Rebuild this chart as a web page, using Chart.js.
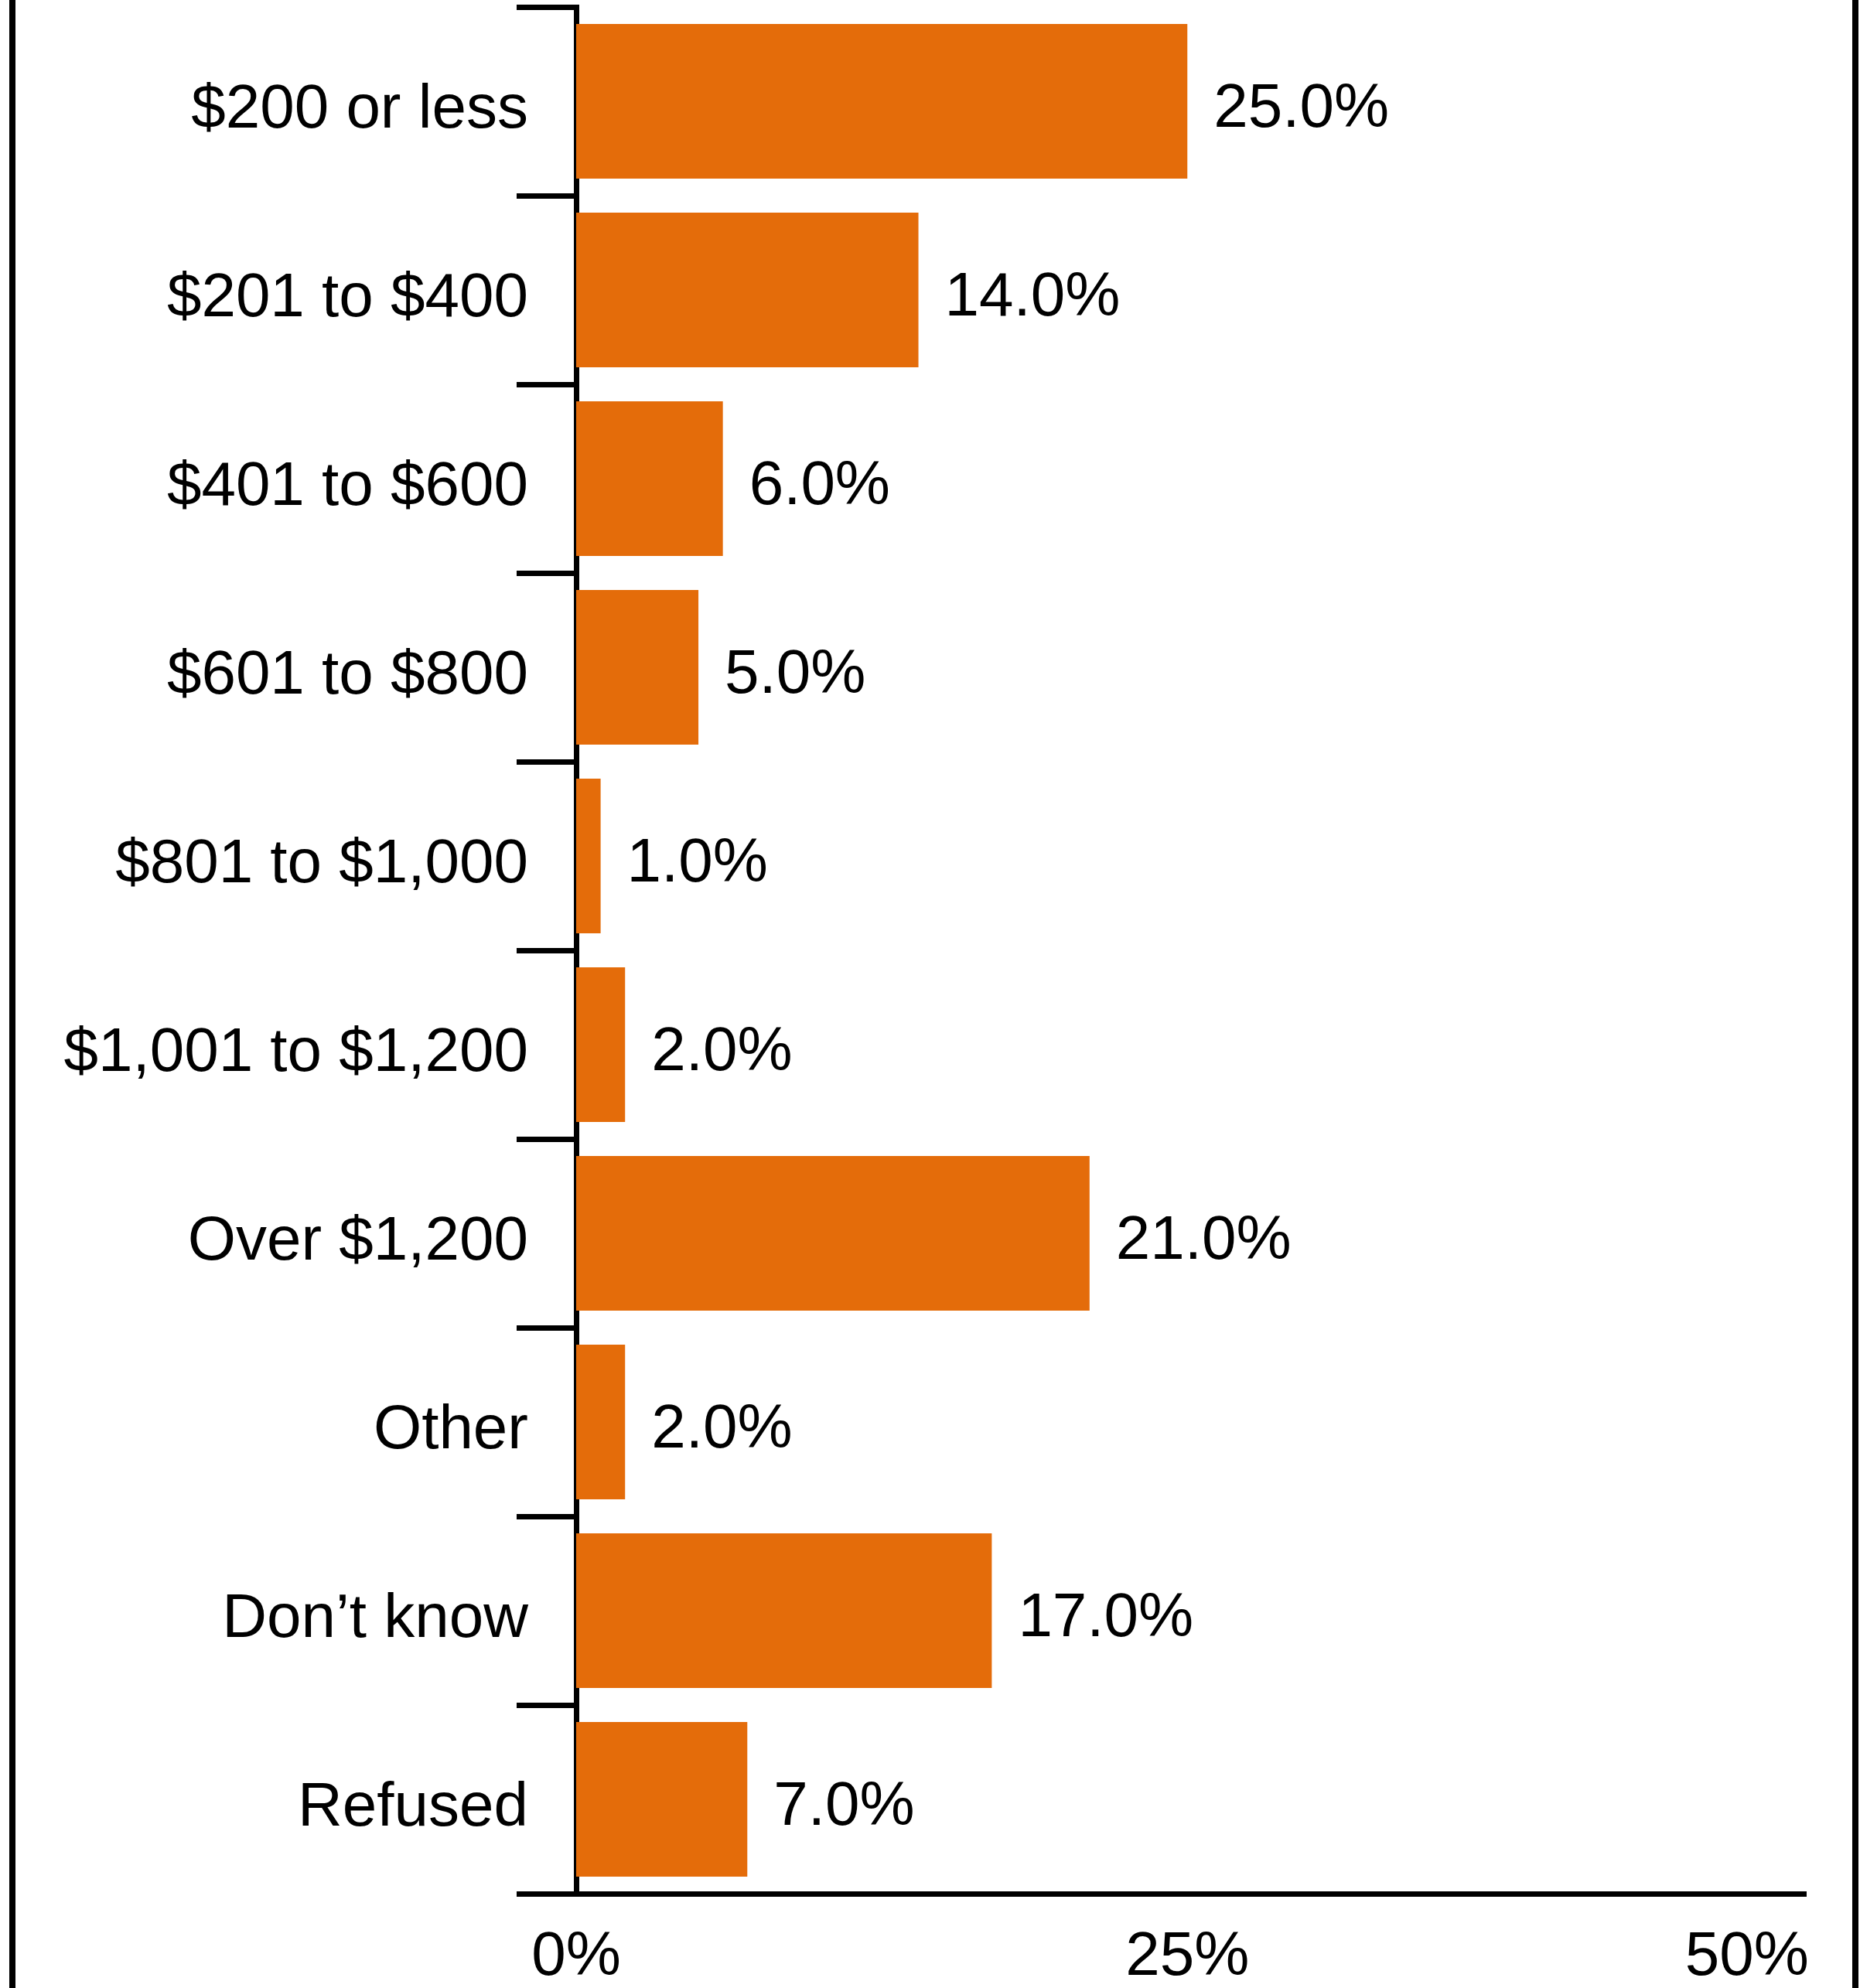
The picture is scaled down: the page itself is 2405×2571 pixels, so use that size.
<!DOCTYPE html>
<html>
<head>
<meta charset="utf-8">
<script src="https://cdn.jsdelivr.net/npm/chart.js@4/dist/chart.umd.min.js"></script>
<style>
  html, body { margin: 0; padding: 0; background: #ffffff; }
  #wrap { position: relative; width: 2405px; height: 2571px; overflow: hidden; }
  #c { position: absolute; left: 0; top: 0; }
  .vline { position: absolute; top: 0; width: 8px; height: 2571px; background: #000; }
</style>
</head>
<body>
<div id="wrap">
  <canvas id="c" width="2405" height="2571"></canvas>
  <div class="vline" style="left:12px"></div>
  <div class="vline" style="left:2395px"></div>
</div>
<script>
const categories = ["$200 or less", "$201 to $400", "$401 to $600", "$601 to $800", "$801 to $1,000", "$1,001 to $1,200", "Over $1,200", "Other", "Don\u2019t know", "Refused"];
const values = [25.0, 14.0, 6.0, 5.0, 1.0, 2.0, 21.0, 2.0, 17.0, 7.0];
const xTicks = [0, 25, 50];

const FONT = "'Liberation Sans', Arial, sans-serif";

const valueLabels = {
  id: 'valueLabels',
  afterDatasetsDraw(chart) {
    const ctx = chart.ctx;
    const meta = chart.getDatasetMeta(0);
    ctx.save();
    ctx.font = "80px " + FONT;
    ctx.fillStyle = "#000";
    ctx.textAlign = "left";
    ctx.textBaseline = "middle";
    meta.data.forEach((el, i) => {
      ctx.fillText(values[i].toFixed(1) + "%", el.x + 34, el.y + 11);
    });
    ctx.restore();
  }
};

new Chart(document.getElementById('c'), {
  type: 'bar',
  data: {
    labels: categories,
    datasets: [{
      data: values,
      backgroundColor: '#E46C0A',
      borderWidth: 0,
      barPercentage: 0.82,
      categoryPercentage: 1.0
    }]
  },
  plugins: [valueLabels],
  options: {
    indexAxis: 'y',
    responsive: false,
    animation: false,
    devicePixelRatio: 1,
    layout: { padding: { left: 0, right: 70, top: 9, bottom: 0 } },
    plugins: { legend: { display: false }, tooltip: { enabled: false } },
    scales: {
      y: {
        type: 'category',
        offset: true,
        grid: { offset: true, drawOnChartArea: false, drawTicks: true, tickLength: 77, lineWidth: 7, color: '#000' },
        border: { display: true, width: 7, color: '#000' },
        ticks: { color: '#000', font: { family: FONT, size: 80 }, padding: -15, labelOffset: 12, autoSkip: false },
        afterFit(scale) { scale.width = 745; scale.paddingTop = 0; scale.paddingBottom = 0; }
      },
      x: {
        type: 'linear',
        min: 0,
        max: 50.3,
        grid: { display: false, drawTicks: false },
        border: { display: true, width: 7, color: '#000' },
        afterBuildTicks(scale) { scale.ticks = xTicks.map(v => ({ value: v })); },
        ticks: {
          color: '#000',
          font: { family: FONT, size: 80 },
          padding: 35,
          maxRotation: 0,
          autoSkip: false,
          callback(value) {
            return value === 50 ? value + '%\u0020\u0020\u0020\u0020\u0020\u0020' : value + '%';
          }
        },
        afterFit(scale) { scale.height = 122; scale.paddingLeft = 0; scale.paddingRight = 0; }
      }
    }
  }
});
</script>
</body>
</html>
